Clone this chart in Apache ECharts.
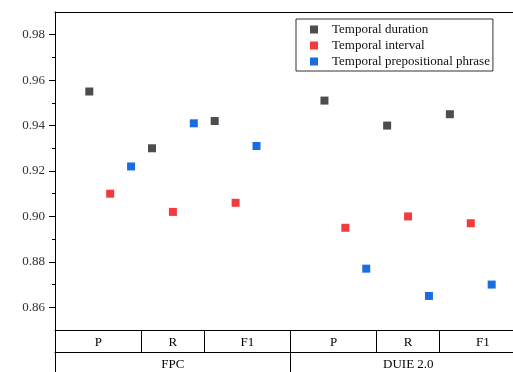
<!DOCTYPE html>
<html>
<head>
<meta charset="utf-8">
<script src="https://cdn.jsdelivr.net/npm/echarts@6/dist/echarts.min.js"></script>
<style>
  html, body { margin: 0; padding: 0; background: #fff; }
  #chart { width: 513px; height: 372px; }
</style>
</head>
<body>
<div id="chart"></div>
<script>
var seriesNames = ['Temporal duration', 'Temporal interval', 'Temporal prepositional phrase'];
var metrics = ['P', 'R', 'F1'];
var datasets = ['FPC', 'DUIE 2.0'];

// values per series, order: FPC P, R, F1, DUIE P, R, F1
var durationVals = [0.955, 0.930, 0.942, 0.951, 0.940, 0.945];
var intervalVals = [0.910, 0.902, 0.906, 0.895, 0.900, 0.897];
var phraseVals = [0.922, 0.941, 0.931, 0.877, 0.865, 0.870];

var yTicks = [0.86, 0.88, 0.90, 0.92, 0.94, 0.96, 0.98];
var yMinorTicks = [0.87, 0.89, 0.91, 0.93, 0.95, 0.97];

var colors = ['#4d4d4d', '#f03c3c', '#1a6de0'];
var allVals = [durationVals, intervalVals, phraseVals];

// x layout: one unit per marker, 3 markers per group, extra gap between datasets
// the original plot runs a bit past the right edge of the picture (to cellEnd)
var datasetGap = 2.25;
var xMin = -0.64, xMax = 21.27, cellEnd = 21.9;
function groupCentre(i) {
  return 2 + 3 * i + (i >= 3 ? datasetGap : 0);
}
var centres = [0, 1, 2, 3, 4, 5].map(groupCentre);
var cellEdges = [xMin];
for (var i = 0; i < 5; i++) {
  cellEdges.push((centres[i] + 1 + centres[i + 1] - 1) / 2);
}
var allEdges = cellEdges.concat([cellEnd]);
var cellCentres = [];
for (var j = 0; j < 6; j++) {
  cellCentres.push((allEdges[j] + allEdges[j + 1]) / 2);
}
var datasetEdge = cellEdges[3];
var datasetCentres = [(xMin + datasetEdge) / 2, (datasetEdge + cellEnd) / 2];

function nearestLabel(value, positions, labels) {
  var best = 0;
  for (var k = 1; k < positions.length; k++) {
    if (Math.abs(positions[k] - value) < Math.abs(positions[best] - value)) best = k;
  }
  return labels[best];
}

var serifFont = '"Liberation Serif", "DejaVu Serif", serif';

var series = seriesNames.map(function (name, s) {
  return {
    name: name,
    type: 'scatter',
    symbol: 'rect',
    symbolSize: 8,
    itemStyle: { color: colors[s], opacity: 1 },
    data: allVals[s].map(function (v, g) {
      return [centres[g] + (s - 1), v];
    })
  };
});

var chart = echarts.init(document.getElementById('chart'));
chart.setOption({
  animation: false,
  grid: { left: 55, right: 0, top: 12, bottom: 42 },
  legend: {
    data: seriesNames,
    orient: 'vertical',
    left: 296,
    top: 19,
    itemWidth: 8,
    itemHeight: 8,
    itemGap: 3,
    padding: [4, 3, 3, 14],
    borderColor: '#333',
    borderWidth: 1,
    icon: 'rect',
    textStyle: { fontFamily: serifFont, fontSize: 13, color: '#111', padding: [0, 0, 0, 9] }
  },
  xAxis: [
    {
      type: 'value', min: xMin, max: xMax, position: 'bottom',
      axisLine: { show: true, onZero: false, lineStyle: { color: '#000', width: 1 } },
      axisTick: { show: true, customValues: cellEdges, length: 22, lineStyle: { color: '#000' } },
      axisLabel: {
        customValues: cellCentres, margin: 6,
        fontFamily: serifFont, fontSize: 13, color: '#000',
        formatter: function (v) {
          return nearestLabel(v, cellCentres, metrics.concat(metrics));
        }
      },
      splitLine: { show: false }
    },
    {
      type: 'value', min: xMin, max: xMax, position: 'bottom', offset: 22,
      axisLine: { show: true, onZero: false, lineStyle: { color: '#000', width: 1 } },
      axisTick: { show: true, customValues: [xMin, datasetEdge], length: 30, lineStyle: { color: '#000' } },
      axisLabel: {
        customValues: datasetCentres, margin: 6,
        fontFamily: serifFont, fontSize: 13, color: '#000',
        formatter: function (v) {
          return nearestLabel(v, datasetCentres, datasets);
        }
      },
      splitLine: { show: false }
    },
    {
      type: 'value', min: xMin, max: xMax, position: 'top',
      axisLine: { show: true, onZero: false, lineStyle: { color: '#000', width: 1 } },
      axisTick: { show: false },
      axisLabel: { show: false },
      splitLine: { show: false }
    }
  ],
  yAxis: [
    {
      type: 'value', min: 0.85, max: 0.99, position: 'left', offset: 0,
      axisLine: { show: true, onZero: false, lineStyle: { color: '#000', width: 1 } },
      axisTick: { show: true, customValues: yTicks, length: 6, lineStyle: { color: '#000' } },
      axisLabel: {
        customValues: yTicks, margin: 10,
        fontFamily: serifFont, fontSize: 13, color: '#333',
        formatter: function (v) { return v.toFixed(2); }
      },
      splitLine: { show: false }
    },
    {
      type: 'value', min: 0.85, max: 0.99, position: 'left', offset: 0,
      axisLine: { show: false, onZero: false },
      axisTick: { show: true, customValues: yMinorTicks, length: 3, lineStyle: { color: '#000' } },
      axisLabel: { show: false },
      splitLine: { show: false }
    }
  ],
  series: series
});
</script>
</body>
</html>
